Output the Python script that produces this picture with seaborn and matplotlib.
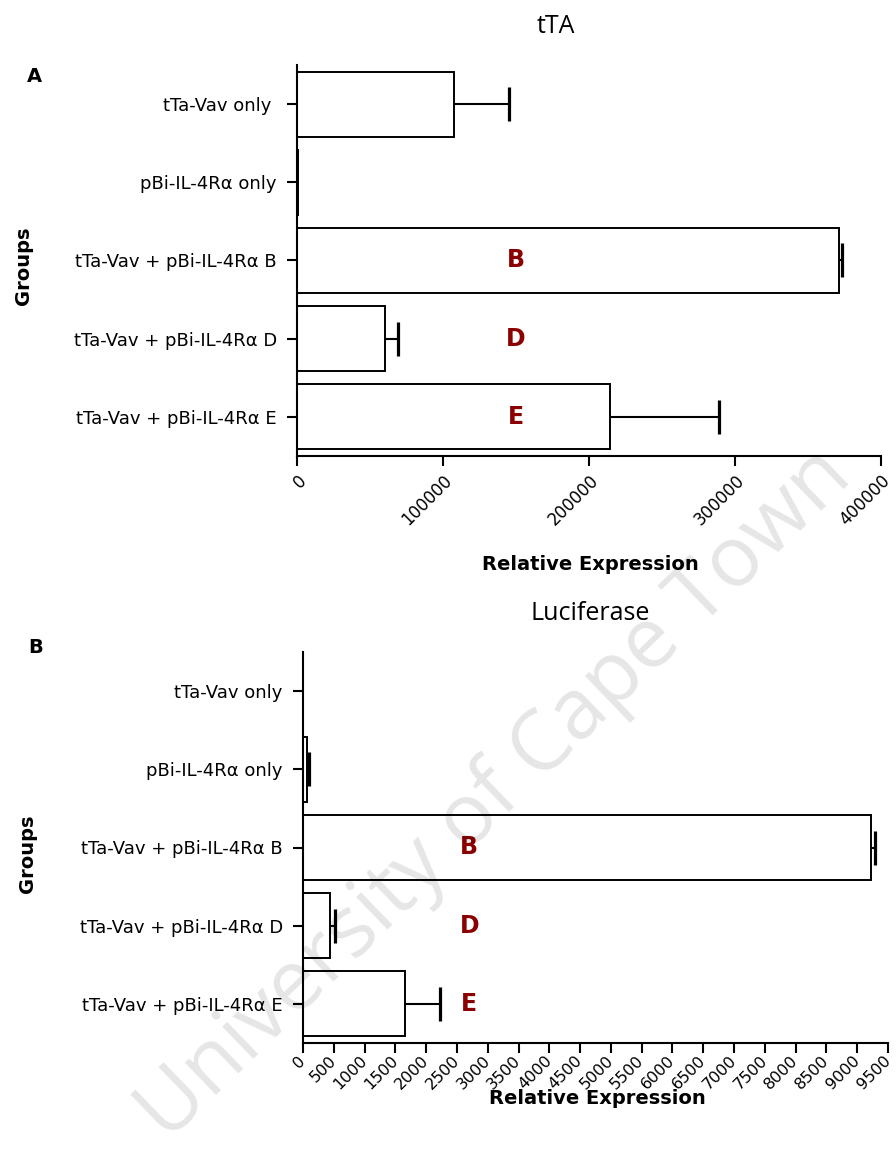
import numpy as np
import pandas as pd
import matplotlib
matplotlib.use("Agg")
import matplotlib.pyplot as plt
import seaborn as sns

# ---- data -------------------------------------------------------------
tta_groups = ["tTa-Vav only ", "pBi-IL-4Rα only", "tTa-Vav + pBi-IL-4Rα B",
              "tTa-Vav + pBi-IL-4Rα D", "tTa-Vav + pBi-IL-4Rα E"]
tta_mean = [107500, 600, 371400, 60300, 214400]
tta_err = [37500, 0, 2100, 9100, 74600]
tta_ticks = [0, 100000, 200000, 300000, 400000]

luc_groups = ["tTa-Vav οnly", "pBi-IL-4Rα only", "tTa-Vav + pBi-IL-4Rα B",
              "tTa-Vav + pBi-IL-4Rα D", "tTa-Vav + pBi-IL-4Rα E"]
luc_mean = [3, 65, 9225, 443, 1650]
luc_err = [0, 32, 70, 70, 568]
luc_ticks = [0, 500, 1000, 1500, 2000, 2500, 3000, 3500, 4000, 4500, 5000,
             5500, 6000, 6500, 7000, 7500, 8000, 8500, 9000, 9500]

clone_letters = ["B", "D", "E"]
clone_rows = [2, 3, 4]

# ---- style ------------------------------------------------------------
sns.set_theme(style="ticks")
plt.rcParams["font.family"] = ["DejaVu Sans"]
plt.rcParams["text.color"] = "black"
plt.rcParams["axes.labelcolor"] = "black"
plt.rcParams["xtick.color"] = "black"
plt.rcParams["ytick.color"] = "black"
plt.rcParams["axes.linewidth"] = 1.5
plt.rcParams["xtick.major.width"] = 1.5
plt.rcParams["ytick.major.width"] = 1.5
plt.rcParams["xtick.major.size"] = 7
plt.rcParams["ytick.major.size"] = 7
plt.rcParams["axes.edgecolor"] = "black"

W, H = 896, 1164
fig = plt.figure(figsize=(W / 100, H / 100), dpi=100)


def px_axes(left, top, right, bottom):
    return fig.add_axes([left / W, 1 - bottom / H, (right - left) / W, (bottom - top) / H])


def fx(x):
    return x / W


def fy(y):
    return 1 - y / H


def panel(ax, groups, mean, err, ticks, letter_x, xpad, xva, xsize):
    df = pd.DataFrame({"group": groups, "value": mean})
    sns.barplot(data=df, x="value", y="group", orient="h", order=groups,
                color="white", edgecolor="black", linewidth=1.4, width=0.83,
                errorbar=None, saturation=1, ax=ax)
    pos = np.arange(len(groups))
    mean = np.asarray(mean, dtype=float)
    err = np.asarray(err, dtype=float)
    keep = err > 0
    eb = ax.errorbar(mean[keep], pos[keep],
                     xerr=[np.zeros(keep.sum()), err[keep]],
                     fmt="none", ecolor="black", elinewidth=1.5,
                     capsize=12, capthick=2.3, zorder=4)
    # only the outer cap is drawn
    for cap in eb[1]:
        if np.allclose(cap.get_xdata(), mean[keep]):
            cap.set_visible(False)
    for lab, row in zip(clone_letters, clone_rows):
        ax.text(letter_x, row, lab, color="#8B0000", fontsize=17,
                fontweight="bold", ha="center", va="center", zorder=5)
    ax.set_xlim(ticks[0], ticks[-1])
    ax.set_ylim(len(groups) - 0.5, -0.5)
    ax.set_xticks(ticks)
    ax.set_xticklabels([str(t) for t in ticks])
    ax.tick_params(axis="x", labelsize=xsize, pad=xpad)
    ax.tick_params(axis="y", labelsize=13, pad=7.5)
    for lab in ax.get_xticklabels():
        lab.set_rotation(45)
        lab.set_ha("right")
        lab.set_va(xva)
        lab.set_rotation_mode("anchor")
    ax.set_xlabel("")
    ax.set_ylabel("")
    sns.despine(ax=ax)


# ---- panel A : tTA ------------------------------------------------------
axA = px_axes(297, 65, 881, 456)
panel(axA, tta_groups, tta_mean, tta_err, tta_ticks, 150000, 4, "top", 12)

# ---- panel B : Luciferase ----------------------------------------------
axB = px_axes(303, 652, 888, 1043)
panel(axB, luc_groups, luc_mean, luc_err, luc_ticks, 2700, 4, "center", 11.5)

# ---- annotations -------------------------------------------------------
fig.text(fx(556), fy(33), "tTA", family="Open Sans", fontsize=18,
         ha="center", va="baseline")
fig.text(fx(590), fy(620), "Luciferase", family="Open Sans", fontsize=18,
         ha="center", va="baseline")

fig.text(fx(27), fy(82), "A", fontsize=14, fontweight="bold", ha="left", va="baseline")
fig.text(fx(28), fy(653), "B", fontsize=14, fontweight="bold", ha="left", va="baseline")

fig.text(fx(23), fy(266), "Groups", fontsize=14, fontweight="bold",
         rotation=90, ha="center", va="center")
fig.text(fx(28), fy(854), "Groups", fontsize=14, fontweight="bold",
         rotation=90, ha="center", va="center")

fig.text(fx(590), fy(564), "Relative Expression", fontsize=14, fontweight="bold",
         ha="center", va="center")
fig.text(fx(597), fy(1099), "Relative Expression", fontsize=14, fontweight="bold",
         ha="center", va="center")

# watermark
fig.text(fx(495), fy(795), "University of Cape Town", family="Open Sans",
         fontsize=61, color="black", alpha=0.10, rotation=44,
         rotation_mode="anchor", ha="center", va="center", zorder=20)

fig.savefig("out.png", dpi=100, facecolor="white")
